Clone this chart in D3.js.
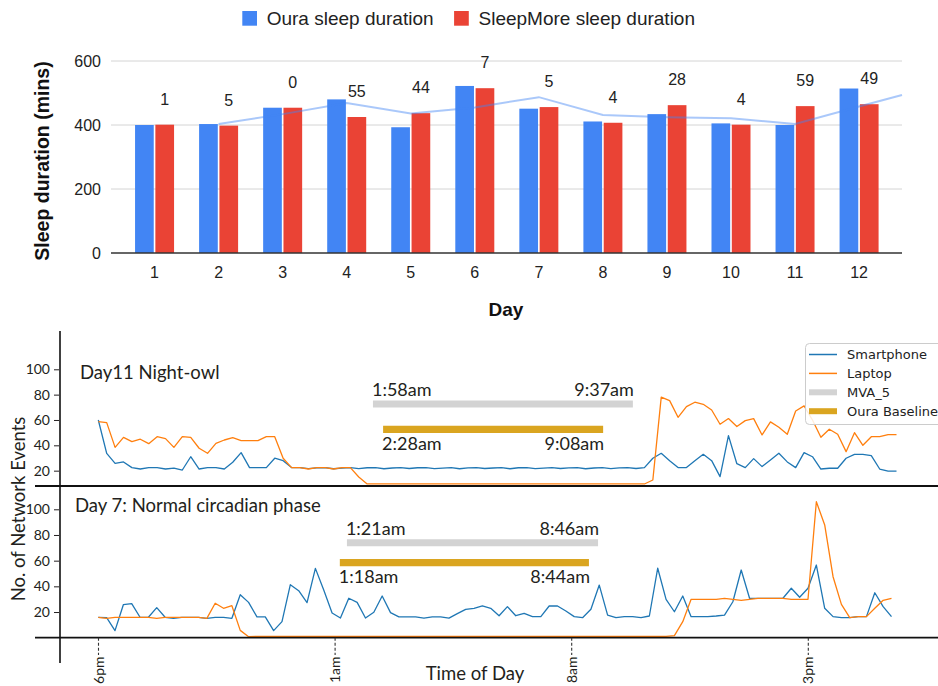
<!DOCTYPE html>
<html><head><meta charset="utf-8">
<script src="https://cdn.jsdelivr.net/npm/d3@7"></script>
<style>body{margin:0;background:#fff}svg{display:block}</style>
</head><body>
<svg id="chart" width="938" height="686"></svg>
<script>
// ================= DATA =================
// --- top: sleep duration per day ---
const days = [1,2,3,4,5,6,7,8,9,10,11,12];
const seriesNames = ['Oura sleep duration', 'SleepMore sleep duration'];
const ouraSleep      = [400, 403, 454, 480, 393, 522, 451, 411, 434, 405, 400, 514];
const sleepMoreSleep = [401, 398, 454, 425, 437, 515, 456, 407, 462, 401, 459, 465];
const diffLabels     = [1, 5, 0, 55, 44, 7, 5, 4, 28, 4, 59, 49];
const trendDays   = [2, 3, 4, 5, 6, 7, 8, 9, 10, 11, 12, 12.67];
const trendValues = [403, 434, 469, 436, 455, 487, 431, 424, 421, 403, 458, 494];
const durTicks = [0, 200, 400, 600];

// --- bottom: network events every 15 min from 6pm ---
const slotCount = 96;
const smartphone11 = [
 60, 33.7, 25.8, 26.9, 22.4, 21.3, 22.4, 22.4, 21.3, 22.0,
 20.5, 31.0, 21.3, 22.4, 22.4, 21.3, 26.6, 34.2, 22.4, 22.4,
 22.4, 29.8, 27.9, 22.4, 22.4, 21.6, 22.2, 22.4, 21.5, 22.0,
 22.4, 21.6, 22.3, 22.4, 21.5, 22.1, 22.4, 21.7, 22.3, 22.4,
 21.6, 22.0, 22.4, 21.5, 22.2, 22.4, 21.7, 22.1, 22.4, 21.5,
 22.3, 22.4, 21.6, 22.0, 22.4, 21.7, 22.2, 22.4, 21.5, 22.1,
 22.4, 21.6, 22.2, 22.4, 21.7, 22.4, 29.8, 33.7, 27.9, 22.4,
 22.4, 27.9, 32.9, 27.9, 15.3, 47.7, 25.5, 22.4, 29.5, 23.2,
 28.4, 33.7, 26.9, 22.4, 34.2, 31.0, 21.3, 21.9, 21.9, 29.8,
 32.9, 32.9, 31.9, 21.3, 19.7, 19.7];
const laptop11 = [
 58.7, 57.9, 38.4, 46.3, 42.9, 44.8, 41.3, 46.8, 45.3, 38.4,
 46.8, 46.3, 37.7, 33.7, 41.6, 44.2, 46.0, 43.7, 43.7, 43.7,
 46.8, 46.8, 29.8, 22.4, 22.4, 21.3, 22.4, 22.4, 21.3, 22.4,
 22.4, 15.0, 9.5, 9.5, 9.5, 9.5, 9.5, 9.5, 9.5, 9.5,
 9.5, 9.5, 9.5, 9.5, 9.5, 9.5, 9.5, 9.5, 9.5, 9.5,
 9.5, 9.5, 9.5, 9.5, 9.5, 9.5, 9.5, 9.5, 9.5, 9.5,
 9.5, 9.5, 9.5, 9.5, 9.5, 9.5, 12.6, 78.0, 75.3, 62.1,
 70.5, 74.0, 72.4, 67.9, 56.6, 61.1, 54.8, 59.5, 61.1, 48.2,
 58.5, 54.2, 48.7, 67.1, 71.1, 60.0, 46.3, 52.7, 48.7, 35.0,
 50.0, 40.0, 46.8, 46.8, 48.4, 48.4];
const smartphone7 = [
 15.9, 15.6, 5.5, 25.7, 26.5, 15.9, 15.9, 23.4, 15.9, 15.1,
 15.9, 15.9, 15.9, 15.1, 15.9, 15.9, 15.1, 33.5, 27.5, 16.2,
 16.2, 5.5, 12.5, 41.3, 36.6, 27.3, 54.0, 37.1, 19.2, 15.3,
 30.7, 27.5, 15.3, 19.8, 32.5, 19.5, 16.2, 16.2, 16.2, 15.3,
 16.2, 16.2, 15.3, 18.8, 22.1, 22.9, 24.7, 22.9, 17.1, 24.2,
 17.1, 19.0, 16.4, 16.4, 24.7, 24.7, 20.8, 16.4, 15.6, 22.1,
 41.0, 17.6, 15.6, 16.4, 16.4, 15.6, 16.9, 54.1, 29.9, 20.2,
 32.5, 16.4, 16.4, 16.4, 16.9, 17.6, 28.0, 52.7, 30.7, 30.7,
 30.7, 30.7, 30.7, 38.5, 31.5, 38.5, 56.6, 22.9, 16.4, 15.6,
 15.6, 16.4, 16.4, 35.0, 24.2, 16.4];
const laptop7 = [
 15.9, 15.1, 15.9, 15.9, 15.9, 15.9, 15.9, 15.1, 15.9, 15.9,
 15.9, 15.9, 15.9, 15.1, 26.8, 22.9, 24.9, 5.7, 0.8, 1.0,
 1, 1, 1, 1, 1, 1, 1, 1, 1, 1,
 1, 1, 1, 1, 1, 1, 1, 1, 1, 1,
 1, 1, 1, 1, 1, 1, 1, 1, 1, 1,
 1, 1, 1, 1, 1, 1, 1, 1, 1, 1,
 1, 1, 1, 1, 1, 1, 1, 1, 1, 1.6,
 12.5, 29.9, 29.9, 29.9, 29.9, 30.7, 29.9, 29.1, 29.9, 30.7,
 30.7, 30.7, 30.7, 29.9, 29.9, 29.9, 105.9, 87.8, 47.5, 26.0,
 15.6, 16.4, 16.4, 22.9, 29.1, 30.7];
const eventTicks = [20, 40, 60, 80, 100];
const hourTicks = [0, 7, 14, 21];              // hours after 6pm
const hourTickLabels = ['6pm', '1am', '8am', '3pm'];
// sleep windows (hours after 6pm) and their labels
const day11Windows = [
  {name: 'MVA_5', start: 8.12, end: 15.81, startLabel: '1:58am', endLabel: '9:37am'},
  {name: 'Oura Baseline', start: 8.42, end: 14.93, startLabel: '2:28am', endLabel: '9:08am'}];
const day7Windows = [
  {name: 'MVA_5', start: 7.35, end: 14.78, startLabel: '1:21am', endLabel: '8:46am'},
  {name: 'Oura Baseline', start: 7.14, end: 14.51, startLabel: '1:18am', endLabel: '8:44am'}];
const legendNames = ['Smartphone', 'Laptop', 'MVA_5', 'Oura Baseline'];

// ================= DRAW =================
const svg = d3.select('#chart');
svg.append('rect').attr('width', 938).attr('height', 686).attr('fill', '#fff');
const ARIAL = "'Liberation Sans', Arial, sans-serif";
const LATO = "Lato, 'Open Sans', sans-serif";

// ---------- top bar chart ----------
const plotL = 111, plotR = 902;
const xDay = d3.scaleLinear().domain([0.32, 12.67]).range([plotL, plotR]);
const yDur = d3.scaleLinear().domain([0, 600]).range([253, 61]);
const groupW = 39;
const xSer = d3.scaleBand().domain(['oura', 'sleepmore']).range([-groupW / 2, groupW / 2]).paddingInner(0.08);
const topG = svg.append('g');

topG.selectAll('line.grid').data(durTicks.filter(t => t > 0)).join('line')
  .attr('x1', plotL).attr('x2', plotR).attr('y1', d => yDur(d)).attr('y2', d => yDur(d))
  .attr('stroke', '#d4d4d4').attr('stroke-width', 1);
topG.selectAll('text.ytick').data(durTicks).join('text')
  .attr('x', 101).attr('y', d => yDur(d)).attr('dy', '0.35em').attr('text-anchor', 'end')
  .attr('font-family', ARIAL).attr('font-size', 16).attr('fill', '#222').text(d => d);

const barSeries = [
  {key: 'oura', values: ouraSleep, color: '#4285f4'},
  {key: 'sleepmore', values: sleepMoreSleep, color: '#ea4335'}];
barSeries.forEach(s => {
  topG.append('g').selectAll('rect').data(days).join('rect')
    .attr('x', d => xDay(d) + xSer(s.key))
    .attr('width', xSer.bandwidth())
    .attr('y', (d, i) => yDur(s.values[i]))
    .attr('height', (d, i) => yDur(0) - yDur(s.values[i]))
    .attr('fill', s.color);
});
topG.append('line').attr('x1', plotL).attr('x2', plotR).attr('y1', yDur(0)).attr('y2', yDur(0))
  .attr('stroke', '#333').attr('stroke-width', 1.3);

topG.append('path')
  .datum(trendDays.map((d, i) => [d, trendValues[i]]))
  .attr('d', d3.line().x(d => xDay(d[0])).y(d => yDur(d[1])))
  .attr('fill', 'none').attr('stroke', '#4285f4').attr('stroke-opacity', 0.45).attr('stroke-width', 2);

topG.append('g').selectAll('text').data(days).join('text')
  .attr('x', d => xDay(d) + xSer('sleepmore') + xSer.bandwidth() / 2)
  .attr('y', (d, i) => yDur(sleepMoreSleep[i]) - 20)
  .attr('text-anchor', 'middle').attr('font-family', ARIAL).attr('font-size', 16).attr('fill', '#222')
  .text((d, i) => diffLabels[i]);

topG.append('g').selectAll('text').data(days).join('text')
  .attr('x', d => xDay(d)).attr('y', 278).attr('text-anchor', 'middle')
  .attr('font-family', ARIAL).attr('font-size', 16).attr('fill', '#222').text(d => d);

topG.append('text').attr('transform', 'translate(49,161) rotate(-90)').attr('text-anchor', 'middle')
  .attr('font-family', ARIAL).attr('font-weight', 'bold').attr('font-size', 19.5).attr('fill', '#111')
  .text('Sleep duration (mins)');
topG.append('text').attr('x', 506).attr('y', 316).attr('text-anchor', 'middle')
  .attr('font-family', ARIAL).attr('font-weight', 'bold').attr('font-size', 19).attr('fill', '#111')
  .text('Day');

// legend
let lx = 242.3;
seriesNames.forEach((name, i) => {
  topG.append('rect').attr('x', lx).attr('y', 11).attr('width', 14.7).attr('height', 14.7)
    .attr('fill', barSeries[i].color);
  const t = topG.append('text').attr('x', lx + 24.4).attr('y', 18.3).attr('dy', '0.35em')
    .attr('font-family', ARIAL).attr('font-size', 19).attr('fill', '#222').text(name);
  lx += 24.4 + t.node().getComputedTextLength() + 20.5;
});

// ---------- bottom line panels ----------
const slotHours = d3.range(slotCount).map(i => i / 4);
const xTime = d3.scaleLinear().domain([0, 21]).range([98.5, 808.3]);
const xTop = d3.scaleLinear().domain([0, 23.75]).range([98.3, 896.5]);
const xBot = d3.scaleLinear().domain([0, 23.75]).range([98.3, 891.5]);
const yA = d3.scaleLinear().domain([0, 100]).range([496, 369.3]);
const yB = d3.scaleLinear().domain([0, 100]).range([637.7, 509.3]);
const splitY = 486;
const bot = svg.append('g');
const INK = '#231f20';

function drawAxisY(y) {
  const g = bot.append('g').attr('transform', 'translate(59,0)')
    .call(d3.axisLeft(y).tickValues(eventTicks).tickSize(5).tickPadding(4));
  g.select('.domain').remove();
  g.selectAll('line').attr('stroke', INK).attr('stroke-width', 1);
  g.selectAll('text').attr('font-family', LATO).attr('font-size', 14).attr('fill', INK);
}
drawAxisY(yA);
drawAxisY(yB);

function drawLines(x, y, phone, laptop) {
  const line = d3.line().x((d, i) => x(slotHours[i])).y(d => y(d));
  bot.append('path').datum(phone).attr('d', line).attr('fill', 'none')
    .attr('stroke', '#1f77b4').attr('stroke-width', 1.3).attr('stroke-linejoin', 'round');
  bot.append('path').datum(laptop).attr('d', line).attr('fill', 'none')
    .attr('stroke', '#ff7f0e').attr('stroke-width', 1.3).attr('stroke-linejoin', 'round');
}
drawLines(xTop, yA, smartphone11, laptop11);
drawLines(xBot, yB, smartphone7, laptop7);

// sleep window bars
function drawWindows(y, wins, grayLevel, goldLevel) {
  const [mva, oura] = wins;
  const gy = y(grayLevel), oy = y(goldLevel);
  bot.append('line').attr('x1', xTime(mva.start)).attr('x2', xTime(mva.end)).attr('y1', gy).attr('y2', gy)
    .attr('stroke', '#d3d3d3').attr('stroke-width', 7);
  bot.append('line').attr('x1', xTime(oura.start)).attr('x2', xTime(oura.end)).attr('y1', oy).attr('y2', oy)
    .attr('stroke', '#daa520').attr('stroke-width', 7.3);
  const lab = (x, yy, anchor, txt) => bot.append('text').attr('x', x).attr('y', yy).attr('text-anchor', anchor)
    .attr('font-family', LATO).attr('font-size', 18).attr('fill', INK).text(txt);
  lab(xTime(mva.start) - 1, gy - 8, 'start', mva.startLabel);
  lab(xTime(mva.end) + 1, gy - 8, 'end', mva.endLabel);
  lab(xTime(oura.start) - 1, oy + 20.5, 'start', oura.startLabel);
  lab(xTime(oura.end) + 1, oy + 20.5, 'end', oura.endLabel);
}
drawWindows(yA, day11Windows, 72.7, 52.6);
drawWindows(yB, day7Windows, 74, 58.4);

// panel titles
bot.append('text').attr('x', 80).attr('y', 379).attr('font-family', LATO).attr('font-size', 18.5)
  .attr('fill', INK).text('Day11 Night-owl');
bot.append('text').attr('x', 75).attr('y', 512).attr('font-family', LATO).attr('font-size', 18.5)
  .attr('fill', INK).text('Day 7: Normal circadian phase');

// axes frame
bot.append('line').attr('x1', 60).attr('x2', 60).attr('y1', 331).attr('y2', 663)
  .attr('stroke', '#111').attr('stroke-width', 1.6);
[splitY, yB(0)].forEach(yy => bot.append('line').attr('x1', 35).attr('x2', 938).attr('y1', yy).attr('y2', yy)
  .attr('stroke', '#111').attr('stroke-width', 1.8));

// time ticks
hourTicks.forEach((h, i) => {
  const x = xTime(h);
  bot.append('line').attr('x1', x).attr('x2', x).attr('y1', yB(0)).attr('y2', 655)
    .attr('stroke', '#333').attr('stroke-width', 1.1).attr('stroke-dasharray', '3,2');
  bot.append('text').attr('transform', `translate(${x + 5},656.5) rotate(-90)`).attr('text-anchor', 'end')
    .attr('font-family', LATO).attr('font-size', 14).attr('fill', INK).text(hourTickLabels[i]);
});
bot.append('text').attr('x', 475).attr('y', 680).attr('text-anchor', 'middle')
  .attr('font-family', LATO).attr('font-size', 18.5).attr('fill', INK).text('Time of Day');
bot.append('text').attr('transform', 'translate(25,509) rotate(-90)').attr('text-anchor', 'middle')
  .attr('font-family', LATO).attr('font-size', 18.5).attr('fill', INK).text('No. of Network Events');

// legend
const leg = bot.append('g');
leg.append('rect').attr('x', 805.5).attr('y', 343.5).attr('width', 140).attr('height', 81).attr('rx', 4)
  .attr('fill', '#fff').attr('fill-opacity', 0.85).attr('stroke', '#cccccc');
const legStyles = [['#1f77b4', 1.5], ['#ff7f0e', 1.5], ['#d3d3d3', 6], ['#daa520', 6]];
legendNames.forEach((n, i) => {
  const yy = 354.5 + i * 18.9;
  leg.append('line').attr('x1', 809).attr('x2', 837).attr('y1', yy).attr('y2', yy)
    .attr('stroke', legStyles[i][0]).attr('stroke-width', legStyles[i][1]);
  leg.append('text').attr('x', 847).attr('y', yy).attr('dy', '0.35em')
    .attr('font-family', "'DejaVu Sans', sans-serif").attr('font-size', 13).attr('fill', '#222').text(n);
});
</script>
</body></html>
